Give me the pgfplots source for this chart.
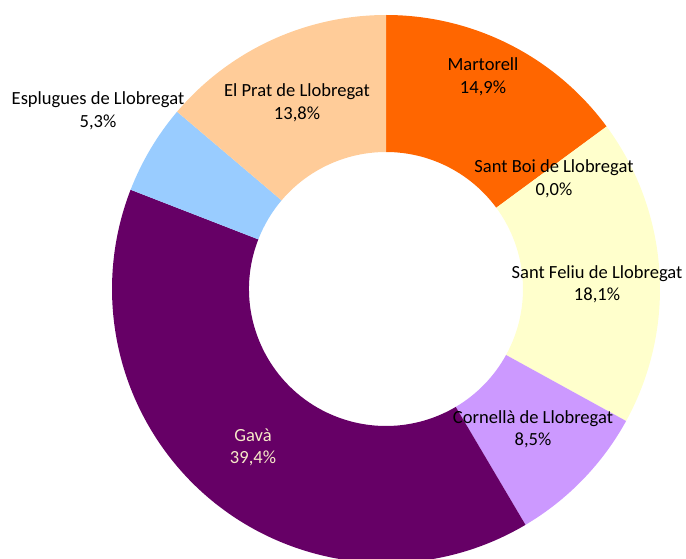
\documentclass[border=0pt]{standalone}
\usepackage{pgfplots}
\pgfplotsset{compat=1.18}
\usepackage{pgfplotstable}
\usepackage{fontspec}
\setmainfont{Carlito}

% slice colours, in table order
\definecolor{slice0}{HTML}{FF6600}
\definecolor{slice1}{HTML}{FFFFCC}
\definecolor{slice2}{HTML}{FFFFCC}
\definecolor{slice3}{HTML}{CC99FF}
\definecolor{slice4}{HTML}{660066}
\definecolor{slice5}{HTML}{99CCFF}
\definecolor{slice6}{HTML}{FFCC99}
\definecolor{gavatext}{HTML}{F6E9C8}

\newcommand\lblfont{\fontsize{13.9}{16}\selectfont}

% share (%), label position (px from top left), label colour
\pgfplotstableread[col sep=comma]{
name,value,lx,ly,tc
Martorell,14.9,483,71,black
Sant Boi de Llobregat,0.0,554,173,black
Sant Feliu de Llobregat,18.1,597,278,black
Cornellà de Llobregat,8.5,533,423,black
Gavà,39.4,253,441,gavatext
Esplugues de Llobregat,5.3,98,105,black
El Prat de Llobregat,13.8,297,97,black
}\donut

\begin{document}
\begin{tikzpicture}
\begin{axis}[
  x=0.75pt, y=0.75pt,
  xmin=0, xmax=686, ymin=0, ymax=558,
  hide axis, clip=true,
]
\coordinate (bl) at (axis cs:0,0);
\coordinate (tr) at (axis cs:686,558);
% centre (386,289) px, outer 274 px, inner 137 px
\def\cx{386}\def\cy{269}
\def\cum{0}
\pgfplotsforeachungrouped \i in {0,...,6}{%
  \pgfplotstablegetelem{\i}{value}\of\donut \let\val\pgfplotsretval
  \pgfmathsetmacro\as{90-3.6*\cum}%
  \pgfmathsetmacro\ae{90-3.6*(\cum+\val)}%
  \pgfmathsetmacro\cum{\cum+\val}%
  \pgfmathsetmacro\xo{\cx+274*cos(\as)}%
  \pgfmathsetmacro\yo{\cy+274*sin(\as)}%
  \pgfmathsetmacro\xi{\cx+137*cos(\ae)}%
  \pgfmathsetmacro\yi{\cy+137*sin(\ae)}%
  \edef\slice{\noexpand\fill[slice\i] (axis cs:\xo,\yo)
    arc[start angle=\as, end angle=\ae, radius=205.5pt]
    -- (axis cs:\xi,\yi)
    arc[start angle=\ae, end angle=\as, radius=102.75pt] -- cycle;}%
  \slice
}
\pgfplotsforeachungrouped \i in {0,...,6}{%
  \pgfplotstablegetelem{\i}{name}\of\donut \let\nm\pgfplotsretval
  \pgfplotstablegetelem{\i}{value}\of\donut \let\val\pgfplotsretval
  \pgfplotstablegetelem{\i}{lx}\of\donut \let\lx\pgfplotsretval
  \pgfplotstablegetelem{\i}{ly}\of\donut \let\py\pgfplotsretval
  \pgfplotstablegetelem{\i}{tc}\of\donut \let\tc\pgfplotsretval
  \pgfmathsetmacro\lyA{558-\py}%
  \pgfmathsetmacro\lyB{558-\py-22.5}%
  \pgfmathprintnumberto[fixed,fixed zerofill,precision=1,use comma,assume math mode=true]{\val}{\pcttxt}%
  \edef\lab{%
    \noexpand\node[anchor=base, text=\tc, font=\noexpand\lblfont, inner sep=0pt] at (axis cs:\lx,\lyA) {\unexpanded\expandafter{\nm}};
    \noexpand\node[anchor=base, text=\tc, font=\noexpand\lblfont, inner sep=0pt] at (axis cs:\lx,\lyB) {\unexpanded\expandafter{\pcttxt}\noexpand\%};}%
  \lab
}
\end{axis}
\pgfresetboundingbox
\useasboundingbox (bl) rectangle (tr);
\end{tikzpicture}
\end{document}
